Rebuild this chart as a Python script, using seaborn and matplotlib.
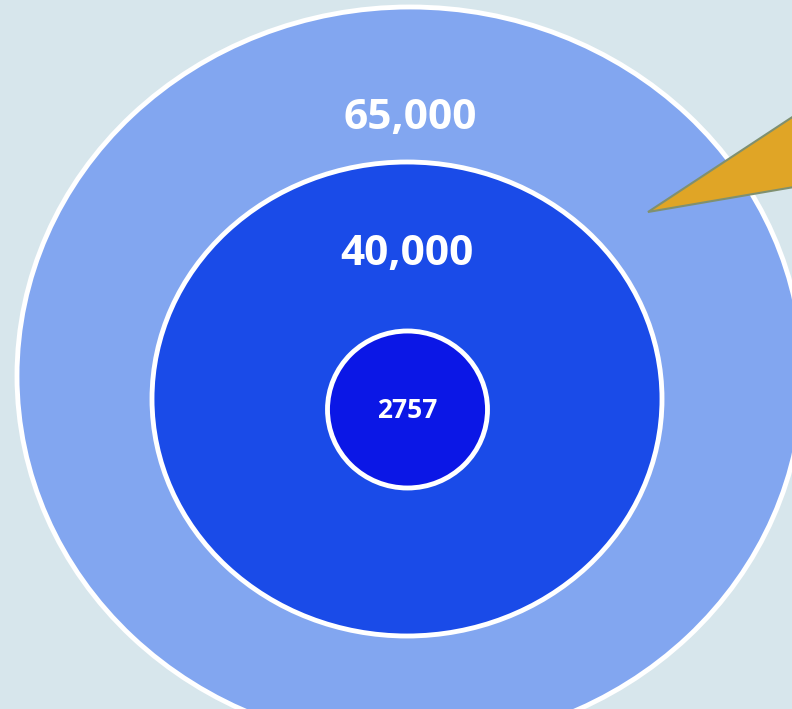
import matplotlib
matplotlib.use("Agg")
import matplotlib.pyplot as plt
from matplotlib.patches import Ellipse, Polygon
import seaborn as sns

# values shown in the rings, outer to inner
ring_labels = ["65,000", "40,000", "2757"]
ring_values = [65000, 40000, 2757]
ring_colors = ["#82A6F0", "#1A4BE8", "#0B17E6"]

sns.set_theme(style="white")
plt.rcParams['font.family'] = ['Open Sans', 'DejaVu Sans']

fig = plt.figure(figsize=(7.92, 7.09), dpi=100)
fig.patch.set_facecolor("#D7E6EC")
ax = fig.add_axes([0, 0, 1, 1])
ax.set_facecolor("#D7E6EC")
ax.set_xlim(0, 792)
ax.set_ylim(709, 0)
ax.set_axis_off()

# ellipse geometry (center x, center y, width, height) and label y
geom = [(410, 376, 786, 738, 119), (407, 399, 510, 474, 254), (407.5, 409.5, 160, 157, 411)]
sizes = [30.5, 30.5, 19]

for (cx, cy, w, h, ty), lab, col, fs in zip(geom, ring_labels, ring_colors, sizes):
    ax.add_patch(Ellipse((cx, cy), w, h, facecolor=col, edgecolor="white", linewidth=3.5))
    ax.text(cx, ty, lab, color="white", fontsize=fs, fontweight="bold",
            ha="center", va="center")

# pointer wedge coming in from the right
ax.add_patch(Polygon([(648, 212), (800, 112), (800, 186)], closed=True,
                     facecolor="#E0A526", edgecolor="#7F9070", linewidth=1.5))

fig.savefig("out.png", dpi=100, facecolor=fig.get_facecolor())
